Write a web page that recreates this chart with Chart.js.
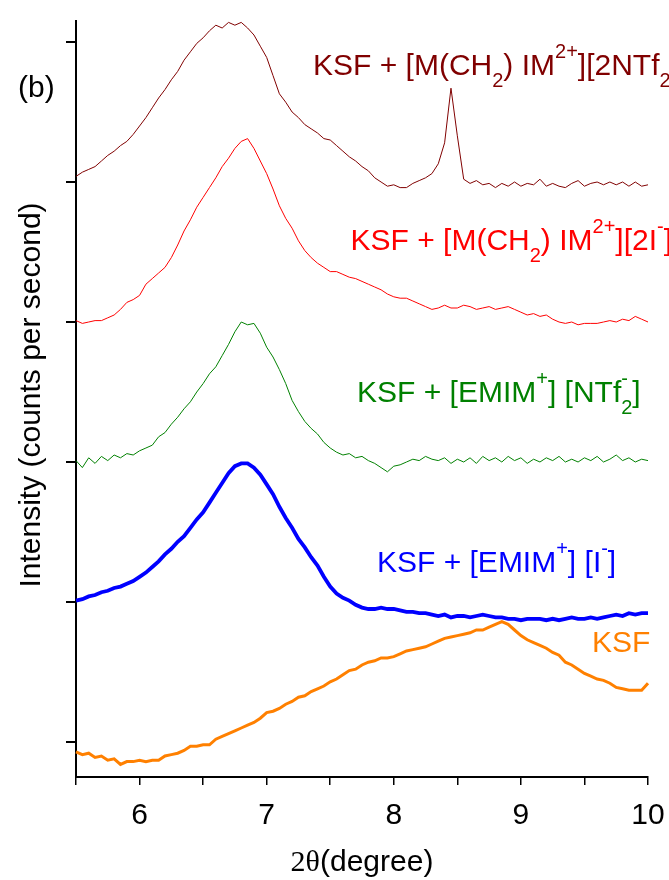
<!DOCTYPE html>
<html>
<head>
<meta charset="utf-8">
<script src="https://cdn.jsdelivr.net/npm/chart.js@4/dist/chart.umd.min.js"></script>
<style>
  html, body { margin: 0; padding: 0; background: #fff; }
  #xrd { display: block; }
</style>
</head>
<body>
<canvas id="xrd" width="669" height="880"></canvas>
<script>
// 2-theta (degree)
var twoTheta = [
  5.50, 5.55, 5.60, 5.65, 5.70, 5.75, 5.80, 5.85, 5.90, 5.95,
  6.00, 6.05, 6.10, 6.15, 6.20, 6.25, 6.30, 6.35, 6.40, 6.45,
  6.50, 6.55, 6.60, 6.65, 6.70, 6.75, 6.80, 6.85, 6.90, 6.95,
  7.00, 7.05, 7.10, 7.15, 7.20, 7.25, 7.30, 7.35, 7.40, 7.45,
  7.50, 7.55, 7.60, 7.65, 7.70, 7.75, 7.80, 7.85, 7.90, 7.95,
  8.00, 8.05, 8.10, 8.15, 8.20, 8.25, 8.30, 8.35, 8.40, 8.45,
  8.50, 8.55, 8.60, 8.65, 8.70, 8.75, 8.80, 8.85, 8.90, 8.95,
  9.00, 9.05, 9.10, 9.15, 9.20, 9.25, 9.30, 9.35, 9.40, 9.45,
  9.50, 9.55, 9.60, 9.65, 9.70, 9.75, 9.80, 9.85, 9.90, 9.95,
  10.00
];

// stacked intensities (offset units)
var ksfMCH2NTf2 = [
  4.04, 4.07, 4.09, 4.11, 4.15, 4.19, 4.22, 4.26, 4.29, 4.34,
  4.40, 4.46, 4.53, 4.60, 4.66, 4.73, 4.79, 4.87, 4.93, 4.99,
  5.03, 5.08, 5.12, 5.10, 5.14, 5.12, 5.14, 5.10, 5.05, 4.97,
  4.89, 4.76, 4.63, 4.57, 4.50, 4.46, 4.41, 4.38, 4.35, 4.31,
  4.30, 4.26, 4.22, 4.18, 4.15, 4.11, 4.08, 4.03, 4.00, 3.97,
  3.98, 3.96, 3.96, 3.99, 4.01, 4.03, 4.06, 4.13, 4.28, 4.67,
  4.33, 4.02, 3.99, 4.01, 3.98, 3.99, 3.96, 3.99, 3.97, 4.00,
  3.97, 3.99, 3.98, 4.02, 3.97, 3.99, 3.97, 3.96, 3.99, 4.01,
  3.97, 3.99, 4.00, 3.98, 4.00, 3.98, 4.00, 3.97, 4.00, 3.97,
  3.98
];
var ksfMCH2I = [
  3.01, 2.99, 3.00, 3.01, 3.01, 3.03, 3.05, 3.09, 3.14, 3.16,
  3.19, 3.27, 3.31, 3.35, 3.39, 3.46, 3.55, 3.65, 3.73, 3.82,
  3.89, 3.96, 4.03, 4.11, 4.17, 4.24, 4.29, 4.31, 4.24, 4.15,
  4.06, 3.95, 3.83, 3.74, 3.67, 3.58, 3.51, 3.46, 3.42, 3.39,
  3.36, 3.36, 3.34, 3.32, 3.31, 3.29, 3.27, 3.25, 3.23, 3.20,
  3.18, 3.17, 3.17, 3.15, 3.13, 3.11, 3.09, 3.10, 3.12, 3.10,
  3.10, 3.12, 3.11, 3.09, 3.10, 3.11, 3.09, 3.10, 3.11, 3.09,
  3.07, 3.05, 3.06, 3.04, 3.05, 3.02, 3.00, 2.99, 3.00, 2.98,
  2.99, 2.99, 2.99, 3.00, 3.01, 3.00, 3.02, 3.01, 3.04, 3.02,
  3.00
];
var ksfEmimNTf2 = [
  2.01, 1.96, 2.03, 1.99, 2.04, 2.01, 2.05, 2.03, 2.06, 2.05,
  2.08, 2.10, 2.12, 2.18, 2.21, 2.27, 2.32, 2.38, 2.43, 2.50,
  2.56, 2.63, 2.68, 2.76, 2.84, 2.93, 3.00, 2.98, 2.99, 2.92,
  2.82, 2.75, 2.66, 2.56, 2.44, 2.36, 2.29, 2.24, 2.20, 2.14,
  2.10, 2.07, 2.05, 2.06, 2.03, 2.04, 2.01, 1.99, 1.96, 1.93,
  1.97, 1.98, 2.00, 2.02, 2.01, 2.04, 2.02, 2.01, 2.03, 1.99,
  2.02, 2.00, 2.03, 1.99, 2.04, 2.01, 2.03, 2.00, 2.04, 2.01,
  2.03, 1.99, 2.02, 2.00, 2.03, 2.01, 2.04, 2.00, 2.02, 2.00,
  2.03, 2.01, 2.04, 2.00, 2.02, 2.05, 2.01, 2.03, 2.00, 2.02,
  2.01
];
var ksfEmimI = [
  1.01, 1.02, 1.04, 1.05, 1.07, 1.08, 1.10, 1.11, 1.13, 1.15,
  1.18, 1.21, 1.25, 1.29, 1.34, 1.38, 1.43, 1.47, 1.53, 1.59,
  1.64, 1.71, 1.78, 1.85, 1.92, 1.97, 1.99, 1.99, 1.96, 1.91,
  1.84, 1.77, 1.68, 1.60, 1.53, 1.45, 1.39, 1.32, 1.26, 1.18,
  1.11, 1.06, 1.03, 1.01, 0.98, 0.96, 0.95, 0.95, 0.96, 0.95,
  0.95, 0.94, 0.93, 0.93, 0.92, 0.92, 0.91, 0.90, 0.91, 0.89,
  0.90, 0.90, 0.89, 0.90, 0.91, 0.90, 0.89, 0.89, 0.88, 0.88,
  0.87, 0.88, 0.88, 0.88, 0.87, 0.88, 0.87, 0.88, 0.89, 0.88,
  0.88, 0.89, 0.88, 0.89, 0.90, 0.91, 0.90, 0.92, 0.91, 0.92,
  0.92
];
var ksf = [
  -0.07, -0.09, -0.08, -0.11, -0.10, -0.13, -0.12, -0.16, -0.14, -0.14,
  -0.13, -0.14, -0.13, -0.13, -0.10, -0.09, -0.08, -0.06, -0.03, -0.03,
  -0.02, -0.02, 0.02, 0.04, 0.06, 0.08, 0.10, 0.12, 0.14, 0.17,
  0.21, 0.22, 0.24, 0.27, 0.29, 0.32, 0.33, 0.36, 0.38, 0.40,
  0.43, 0.45, 0.48, 0.51, 0.52, 0.55, 0.57, 0.58, 0.60, 0.60,
  0.61, 0.63, 0.65, 0.66, 0.67, 0.68, 0.70, 0.72, 0.74, 0.75,
  0.76, 0.77, 0.78, 0.80, 0.80, 0.82, 0.84, 0.86, 0.84, 0.80,
  0.76, 0.73, 0.71, 0.69, 0.67, 0.64, 0.62, 0.57, 0.55, 0.52,
  0.49, 0.47, 0.45, 0.44, 0.42, 0.39, 0.38, 0.37, 0.37, 0.37,
  0.42
];

var xTickLabels = [6, 7, 8, 9, 10];

// curve labels: [text, 'n' | 'sub' | 'sup' | 'supStack']
var labelBrown = [["KSF + [M(CH", "n"], ["2", "sub"], [") IM", "n"], ["2+", "sup"], ["][2NTf", "n"], ["2", "sub"]];
var labelRed = [["KSF + [M(CH", "n"], ["2", "sub"], [") IM", "n"], ["2+", "sup"], ["][2I", "n"], ["-", "sup"], ["]", "n"]];
var labelGreen = [["KSF + [EMIM", "n"], ["+", "sup"], ["] [NTf", "n"], ["2", "sub"], ["-", "supStack"], ["]", "n"]];
var labelBlue = [["KSF + [EMIM", "n"], ["+", "sup"], ["] [I", "n"], ["-", "sup"], ["]", "n"]];
var labelOrange = [["KSF", "n"]];

function pts(arr) {
  return twoTheta.map(function(x, i) { return { x: x, y: arr[i] }; });
}

var FONT = '"Liberation Sans", Arial, sans-serif';

function drawParts(ctx, x, y, parts, size) {
  var cx = x, lastX = x, lastW = 0;
  parts.forEach(function(p) {
    var txt = p[0], mode = p[1];
    if (mode === "n") {
      ctx.font = size + "px " + FONT;
      ctx.fillText(txt, cx, y);
      lastX = cx; lastW = ctx.measureText(txt).width;
      cx += lastW;
    } else {
      ctx.font = Math.round(size * 0.66) + "px " + FONT;
      var dy = mode === "sub" ? size * 0.4 : -size * 0.57;
      var w = ctx.measureText(txt).width;
      if (mode === "supStack") {
        ctx.fillText(txt, lastX, y + dy);
        cx = Math.max(cx, lastX + w);
      } else {
        ctx.fillText(txt, cx, y + dy);
        lastX = cx; lastW = w;
        cx += w;
      }
    }
  });
}

var textPlugin = {
  id: "xrdText",
  afterDraw: function(chart) {
    var ctx = chart.ctx, xs = chart.scales.x, ys = chart.scales.y, area = chart.chartArea;
    ctx.save();
    ctx.textBaseline = "alphabetic";
    ctx.textAlign = "left";
    var items = [
      [labelBrown, "#800000", 7.365, 4.764],
      [labelRed, "#FF0000", 7.66, 3.514],
      [labelGreen, "#008000", 7.711, 2.429],
      [labelBlue, "#0000FF", 7.868, 1.214],
      [labelOrange, "#FF8000", 9.559, 0.643],
      [[["(b)", "n"]], "#000000", 5.044, 4.607]
    ];
    items.forEach(function(it) {
      ctx.fillStyle = it[1];
      drawParts(ctx, xs.getPixelForValue(it[2]), ys.getPixelForValue(it[3]), it[0], 30);
    });

    // y axis title
    ctx.fillStyle = "#000";
    ctx.font = "30px " + FONT;
    ctx.save();
    ctx.translate(area.left - 36, (area.top + area.bottom) / 2 - 4);
    ctx.rotate(-Math.PI / 2);
    ctx.textAlign = "center";
    ctx.fillText("Intensity (counts per second)", 0, 0);
    ctx.restore();

    // x axis title: 2θ in serif, rest sans
    var a = "2\u03B8", b = "(degree)";
    ctx.font = '30px "Liberation Serif", "Times New Roman", serif';
    var wa = ctx.measureText(a).width;
    ctx.font = "30px " + FONT;
    var wb = ctx.measureText(b).width;
    var sx = (area.left + area.right) / 2 - (wa + wb) / 2;
    var by = area.bottom + 94;
    ctx.font = '30px "Liberation Serif", "Times New Roman", serif';
    ctx.fillText(a, sx, by);
    ctx.font = "30px " + FONT;
    ctx.fillText(b, sx + wa, by);
    ctx.restore();
  }
};

function line(arr, color, width) {
  return {
    data: pts(arr),
    borderColor: color,
    borderWidth: width,
    pointRadius: 0,
    tension: 0,
    fill: false,
    clip: false
  };
}

var ctxX = document.getElementById("xrd").getContext("2d");
new Chart(ctxX, {
  type: "line",
  data: {
    datasets: [
      line(ksf, "#FF8000", 3),
      line(ksfEmimI, "#0000FF", 3.8),
      line(ksfEmimNTf2, "#008000", 1),
      line(ksfMCH2I, "#FF0000", 1),
      line(ksfMCH2NTf2, "#800000", 1)
    ]
  },
  options: {
    responsive: false,
    animation: false,
    layout: { padding: { top: 21, right: 21, left: 0, bottom: 0 } },
    plugins: { legend: { display: false }, tooltip: { enabled: false } },
    scales: {
      x: {
        type: "linear",
        min: 5.5,
        max: 10,
        afterFit: function(s) { s.height = 103; s.paddingLeft = 0; s.paddingRight = 0; },
        border: { display: true, color: "#000", width: 2 },
        grid: { display: true, drawOnChartArea: false, drawTicks: true, tickLength: 8, color: "#000", lineWidth: 1.5 },
        ticks: {
          stepSize: 0.5,
          autoSkip: false,
          maxRotation: 0,
          padding: 13,
          color: "#000",
          font: { family: "Liberation Sans", size: 30 },
          callback: function(v) {
            var r = Math.round(v);
            return (Math.abs(v - r) < 1e-6 && xTickLabels.indexOf(r) >= 0) ? String(r) : "";
          }
        }
      },
      y: {
        type: "linear",
        min: -0.25,
        max: 5.15,
        afterFit: function(s) { s.width = 76; s.paddingTop = 0; s.paddingBottom = 0; },
        border: { display: true, color: "#000", width: 2 },
        grid: { display: true, drawOnChartArea: false, drawTicks: true, tickLength: 10, color: "#000", lineWidth: 2 },
        ticks: { display: false, stepSize: 1, includeBounds: false }
      }
    }
  },
  plugins: [textPlugin]
});
</script>
</body>
</html>
